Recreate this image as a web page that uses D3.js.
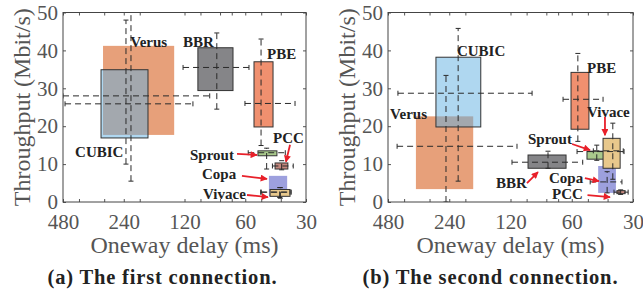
<!DOCTYPE html>
<html>
<head>
<meta charset="utf-8">
<script src="https://cdn.jsdelivr.net/npm/d3@7"></script>
<style>
  body { margin: 0; background: #fff; }
  svg { font-family: "Liberation Serif", "Times New Roman", serif; }
</style>
</head>
<body>
<svg id="chart" width="643" height="293"></svg>
<script>
// draw order: Verus under CUBIC so the overlap turns grey
var protocols = ["Verus", "CUBIC", "BBR", "PBE", "Sprout", "PCC", "Copa", "Vivace"];
var xTicks = [480, 240, 120, 60, 30];
var xMinor = [400, 300, 200, 100, 80, 70, 50, 40];
var yTicks = [0, 10, 20, 30, 40, 50];

// (a) first connection -- delay in ms, throughput in Mbit/s
var a_delayBox  = [[304,135],[311,182],[103,69],[54.3,43.7],[51.9,41.8],[42.7,36.9],[45.8,37.2],[45.2,36]];
var a_delayWhisk= [[480,90],[469,109],[122,57.5],[60.2,34],[58,38],[44,34.7],[50,36],[50.3,35.5]];
var a_delayMed  = [234, 221, 83, 50.1, 47, 39.6, 40.5, 40.2];
var a_tputBox   = [[17.7,41.2],[16.9,34.9],[29.4,40.7],[19.8,37],[12.2,13.5],[8.7,10.3],[1.5,6.9],[1.5,3.3]];
var a_tputWhisk = [[10,48],[5.5,50],[24.5,44.6],[14.9,43],[8.7,14.2],[8.5,10.9],[1.2,3.8],[1.0,3.8]];
var a_tputMed   = [28.0, 25.9, 35.5, 26, 13, 9.5, 2.6, 2.6];
var a_labels = [["Verus",223,42.3],["BBR",122,42.3],["PBE",46.8,39.2],["PCC",43.7,16.9],
                ["CUBIC",418,13.2],["Sprout",112.7,12.4],["Copa",98.3,7.4],["Vivace",97.1,2.1]];
var a_arrows = [[65.9,12.7,52.5,12.4],[62.3,6.9,46.8,6.1],[58.8,1.85,46.3,1.3],[36,15.1,37.7,10.6]];

// (b) second connection
var b_delayBox  = [[350,183],[279,168],[98.4,64],[60.5,49.4],[50.5,38],[36,32.8],[44.5,36.4],[42.1,34.7]];
var b_delayWhisk= [[433,111.5],[429,94],[118,53],[66.2,42.1],[56.5,33.2],[37.2,31.7],[48.7,34],[47,33.5]];
var b_delayMed  = [249, 217, 78.5, 56, 45.2, 34.5, 40.2, 37.7];
var b_tputBox   = [[3.4,22.6],[19.8,38.2],[8.9,12.4],[19.2,34.2],[11.3,13.4],[2.2,3],[2.4,9.5],[8.9,16.8]];
var b_tputWhisk = [[0,33.4],[5.5,45.8],[8.9,13.4],[16,39.2],[11,15],[2,3.2],[2.4,8],[6,20.8]];
var b_tputMed   = [14.7, 28.7, 10.5, 27.1, 13.3, 2.6, 5.3, 13.5];
var b_labels = [["Verus",469,23.2],["CUBIC",220,40],["PBE",50.5,35.3],["Vivace",50.5,23.7],
                ["Sprout",98.4,16.8],["BBR",141.4,5],["Copa",77.6,6.3],["PCC",75,2.1]];
var b_arrows = [[41.2,22.4,41.2,17.6],[59.8,15.3,48.8,13.7],[99.6,5,87.9,7.9],[51.7,6.3,44.1,5.5],[50.2,1.8,38.9,1.3]];

var fills = {Verus:"#e7a07a", CUBIC:"rgb(95,175,225)", BBR:"#858588", PBE:"#f0906f",
             Sprout:"#a9c98c", PCC:"#c4887e", Copa:"#8c8fd8", Vivace:"#e8c88c"};
var fillOpacity = {CUBIC:0.5, Copa:0.85};
var noStroke = {Verus:true, Copa:true};

var svg = d3.select("#chart");
var top_ = 12.5, bottom = 202;

svg.append("defs").append("marker")
    .attr("id", "arr")
    .attr("viewBox", "0 0 10 10")
    .attr("refX", 9).attr("refY", 5)
    .attr("markerUnits", "userSpaceOnUse")
    .attr("markerWidth", 8).attr("markerHeight", 7)
    .attr("orient", "auto")
  .append("path")
    .attr("d", "M0,0L10,5L0,10z")
    .attr("fill", "#e8202a");

var panels = [
  {id:"a", left:63, right:306, dBox:a_delayBox, dWh:a_delayWhisk, dMed:a_delayMed,
   tBox:a_tputBox, tWh:a_tputWhisk, tMed:a_tputMed, labels:a_labels, arrows:a_arrows,
   caption:"(a) The first connection.", capX:162, capW:229},
  {id:"b", left:388, right:633, dBox:b_delayBox, dWh:b_delayWhisk, dMed:b_delayMed,
   tBox:b_tputBox, tWh:b_tputWhisk, tMed:b_tputMed, labels:b_labels, arrows:b_arrows,
   caption:"(b) The second connection.", capX:490, capW:255}
];

panels.forEach(drawPanel);

function drawPanel(p) {
  var x = d3.scaleLog().base(2).domain([480, 30]).range([p.left, p.right]);
  var y = d3.scaleLinear().domain([0, 50]).range([bottom, top_]);
  var g = svg.append("g");

  svg.select("defs").append("clipPath").attr("id", "clip" + p.id)
    .append("rect")
      .attr("x", p.left).attr("y", top_)
      .attr("width", p.right - p.left).attr("height", bottom - top_);

  var rows = protocols.map(function(n, i) {
    return {name:n, dBox:p.dBox[i], dWh:p.dWh[i], dMed:p.dMed[i],
            tBox:p.tBox[i], tWh:p.tWh[i], tMed:p.tMed[i]};
  });

  var marks = g.append("g").attr("clip-path", "url(#clip" + p.id + ")");

  marks.selectAll("rect.box")
    .data(rows)
    .enter().append("rect")
      .attr("class", "box")
      .attr("x", function(d) { return x(d.dBox[0]); })
      .attr("width", function(d) { return x(d.dBox[1]) - x(d.dBox[0]); })
      .attr("y", function(d) { return y(d.tBox[1]); })
      .attr("height", function(d) { return y(d.tBox[0]) - y(d.tBox[1]); })
      .style("fill", function(d) { return fills[d.name]; })
      .style("fill-opacity", function(d) { return fillOpacity[d.name] || 1; })
      .style("stroke", function(d) { return noStroke[d.name] ? "none" : "#333"; })
      .style("stroke-width", 1);

  var wh = marks.selectAll("g.whisk")
    .data(rows)
    .enter().append("g")
      .attr("class", "whisk")
      .style("stroke", "#2a2a2a")
      .style("stroke-width", 1);

  // horizontal (delay) whisker at median throughput
  wh.append("line")
      .attr("x1", function(d) { return x(d.dWh[0]); })
      .attr("x2", function(d) { return x(d.dWh[1]); })
      .attr("y1", function(d) { return y(d.tMed); })
      .attr("y2", function(d) { return y(d.tMed); })
      .style("stroke-dasharray", "6,4");
  [0, 1].forEach(function(k) {
    wh.append("line")
        .attr("x1", function(d) { return x(d.dWh[k]); })
        .attr("x2", function(d) { return x(d.dWh[k]); })
        .attr("y1", function(d) { return y(d.tMed) - 2.5; })
        .attr("y2", function(d) { return y(d.tMed) + 2.5; });
  });

  // vertical (throughput) whisker at median delay
  wh.append("line")
      .attr("x1", function(d) { return x(d.dMed); })
      .attr("x2", function(d) { return x(d.dMed); })
      .attr("y1", function(d) { return y(d.tWh[0]); })
      .attr("y2", function(d) { return y(d.tWh[1]); })
      .style("stroke-dasharray", "6,4");
  [0, 1].forEach(function(k) {
    wh.append("line")
        .attr("x1", function(d) { return x(d.dMed) - 2.5; })
        .attr("x2", function(d) { return x(d.dMed) + 2.5; })
        .attr("y1", function(d) { return y(d.tWh[k]); })
        .attr("y2", function(d) { return y(d.tWh[k]); });
  });

  // axes
  g.append("g").attr("transform", "translate(0," + bottom + ")")
    .call(d3.axisBottom(x).tickValues(xTicks).tickFormat(d3.format("d"))
      .tickSizeInner(-3).tickSizeOuter(0).tickPadding(12));
  g.append("g").attr("transform", "translate(0," + bottom + ")")
    .call(d3.axisBottom(x).tickValues(xMinor).tickFormat("").tickSizeInner(-3).tickSizeOuter(0));
  g.append("g").attr("transform", "translate(0," + top_ + ")")
    .call(d3.axisTop(x).tickValues(xTicks.concat(xMinor)).tickFormat("").tickSizeInner(-3).tickSizeOuter(0));
  g.append("g").attr("transform", "translate(" + p.left + ",0)")
    .call(d3.axisLeft(y).tickValues(yTicks).tickSizeInner(-3).tickSizeOuter(0).tickPadding(5));
  g.append("g").attr("transform", "translate(" + p.right + ",0)")
    .call(d3.axisRight(y).tickValues(yTicks).tickFormat("").tickSizeInner(-3).tickSizeOuter(0));

  g.selectAll(".domain").remove();
  g.selectAll(".tick line").attr("stroke", "#555");
  g.selectAll(".tick text")
    .attr("fill", "#555")
    .style("font-family", "'Liberation Serif', serif")
    .style("font-size", "21px");

  g.append("rect")
    .attr("x", p.left).attr("y", top_)
    .attr("width", p.right - p.left).attr("height", bottom - top_)
    .style("fill", "none").style("stroke", "#444").style("stroke-width", 1);

  // annotations
  g.selectAll("text.lab")
    .data(p.labels)
    .enter().append("text")
      .attr("class", "lab")
      .attr("x", function(d) { return x(d[1]); })
      .attr("y", function(d) { return y(d[2]); })
      .attr("dy", "0.35em")
      .style("font-weight", "bold")
      .style("font-size", "15px")
      .style("fill", "#222")
      .text(function(d) { return d[0]; });

  g.selectAll("line.arrow")
    .data(p.arrows)
    .enter().append("line")
      .attr("class", "arrow")
      .attr("x1", function(d) { return x(d[0]); })
      .attr("y1", function(d) { return y(d[1]); })
      .attr("x2", function(d) { return x(d[2]); })
      .attr("y2", function(d) { return y(d[3]); })
      .style("stroke", "#e8202a")
      .style("stroke-width", 1.8)
      .attr("marker-end", "url(#arr)");

  // titles
  g.append("text")
    .attr("transform", "translate(" + (p.left - 33) + "," + ((top_ + bottom) / 2) + ") rotate(-90)")
    .attr("text-anchor", "middle")
    .style("font-size", "24px")
    .style("fill", "#555")
    .text("Throughput (Mbit/s)");

  g.append("text")
    .attr("x", (p.left + p.right) / 2)
    .attr("y", 253)
    .attr("text-anchor", "middle")
    .style("font-size", "24px")
    .style("fill", "#555")
    .text("Oneway delay (ms)");

  g.append("text")
    .attr("x", p.capX - p.capW / 2)
    .attr("y", 284)
    .attr("textLength", p.capW)
    .attr("lengthAdjust", "spacing")
    .style("font-size", "20.5px")
    .style("font-weight", "bold")
    .style("fill", "#222")
    .text(p.caption);
}
</script>
</body>
</html>
